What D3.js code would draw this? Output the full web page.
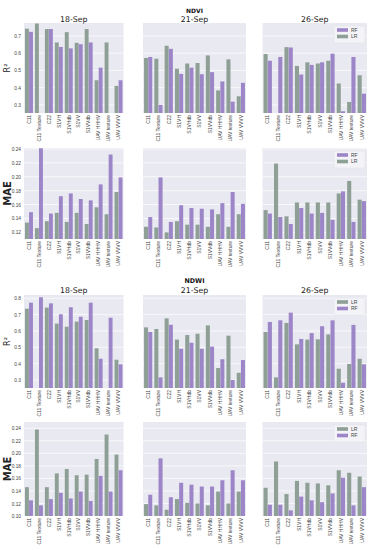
<!DOCTYPE html>
<html><head><meta charset="utf-8">
<script src="https://cdn.jsdelivr.net/npm/d3@7/dist/d3.min.js"></script>
<style>body{margin:0;background:#fff;} svg{display:block;}</style>
</head><body><svg id="c" width="372" height="550"></svg>
<script>
const categories = ["C11","C11 Texture","C22","S1VH","S1VHdb","S1VV","S1VVdb","UAV HHHV","UAV texture","UAV VVVV"];
const dates = ["18-Sep","21-Sep","26-Sep"];
const models = ["LR","RF"];

// NDVI R2
const ndviR2LR18 = [0.742,0.772,0.740,0.662,0.722,0.660,0.740,0.443,0.662,0.410];
const ndviR2RF18 = [0.724,null,0.740,0.636,0.628,0.652,0.662,0.516,null,0.443];
const ndviR2LR21 = [0.572,0.568,0.643,0.510,0.540,0.543,0.587,0.384,0.564,0.350];
const ndviR2RF21 = [0.578,0.300,0.625,0.480,0.516,0.478,0.490,0.436,0.319,0.428];
const ndviR2LR26 = [0.595,null,0.635,0.526,0.547,0.540,0.556,0.424,0.317,0.472];
const ndviR2RF26 = [0.556,0.578,0.633,0.476,0.532,0.547,0.597,0.263,0.578,0.365];
// NDVI MAE
const ndviMaeLR18 = [0.134,0.126,0.136,0.148,0.135,0.148,0.132,0.156,0.146,0.178];
const ndviMaeRF18 = [0.149,0.241,0.147,0.172,0.176,0.168,0.166,0.189,0.232,0.199];
const ndviMaeLR21 = [0.128,0.127,0.120,0.136,0.131,0.131,0.128,0.146,0.128,0.146];
const ndviMaeRF21 = [0.142,0.199,0.135,0.159,0.155,0.154,0.153,0.162,0.178,0.161];
const ndviMaeLR26 = [0.152,0.219,0.143,0.163,0.163,0.163,0.163,0.176,0.194,0.167];
const ndviMaeRF26 = [0.147,0.142,0.132,0.155,0.147,0.148,0.138,0.179,0.135,0.165];
// NDWI R2
const ndwiR2LR18 = [0.736,null,0.743,0.645,0.626,0.657,0.667,0.494,null,0.424];
const ndwiR2RF18 = [0.773,0.806,0.769,0.702,0.745,0.687,0.773,0.430,0.681,0.396];
const ndwiR2LR21 = [0.622,0.612,0.677,0.547,0.575,0.583,0.634,0.373,0.571,0.344];
const ndwiR2RF21 = [0.594,0.316,0.638,0.491,0.528,0.491,0.504,0.427,0.300,0.422];
const ndwiR2LR26 = [0.594,0.316,0.649,0.518,0.547,0.549,0.579,0.369,0.398,0.430];
const ndwiR2RF26 = [0.655,0.665,0.712,0.551,0.587,0.629,0.665,0.283,0.637,0.396];
// NDWI MAE
const ndwiMaeLR18 = [0.146,0.238,0.146,0.168,0.175,0.165,0.166,0.191,0.230,0.198];
const ndwiMaeRF18 = [0.125,0.117,0.127,0.137,0.128,0.139,0.124,0.164,0.139,0.173];
const ndwiMaeLR21 = [0.119,0.117,0.110,0.127,0.121,0.120,0.117,0.139,0.120,0.139];
const ndwiMaeRF21 = [0.134,0.192,0.130,0.153,0.150,0.147,0.147,0.157,0.173,0.157];
const ndwiMaeLR26 = [0.145,0.187,0.135,0.156,0.153,0.152,0.149,0.173,0.169,0.163];
const ndwiMaeRF26 = [0.118,0.118,0.109,0.131,0.125,0.122,0.136,0.161,0.117,0.146];

const r2Ticks1 = [0.3,0.4,0.5,0.6,0.7];
const maeTicks1 = [0.12,0.14,0.16,0.18,0.20,0.22,0.24];
const r2Ticks2 = [0.3,0.4,0.5,0.6,0.7,0.8];
const maeTicks2 = [0.10,0.12,0.14,0.16,0.18,0.20,0.22,0.24];

const colors = {LR:"#8e9f95", RF:"#9c86c8"};
const bg = "#e9e9f1";

const cols = [[24,123.5],[143,246],[262.5,367]];
const rows = [
  {top:23,bottom:113,domain:[0.253,0.775],ticks:r2Ticks1,fmt:".1f",label:"R²",titleY:21.8,
   data:[[ndviR2LR18,ndviR2RF18],[ndviR2LR21,ndviR2RF21],[ndviR2LR26,ndviR2RF26]],legend:["RF","LR"]},
  {top:148,bottom:239,domain:[0.1104,0.2414],ticks:maeTicks1,fmt:".2f",label:"MAE",titleY:null,
   data:[[ndviMaeLR18,ndviMaeRF18],[ndviMaeLR21,ndviMaeRF21],[ndviMaeLR26,ndviMaeRF26]],legend:["RF","LR"]},
  {top:295,bottom:388,domain:[0.251,0.820],ticks:r2Ticks2,fmt:".1f",label:"R²",titleY:293,
   data:[[ndwiR2LR18,ndwiR2RF18],[ndwiR2LR21,ndwiR2RF21],[ndwiR2LR26,ndwiR2RF26]],legend:["LR","RF"]},
  {top:422,bottom:516,domain:[0.10,0.25],ticks:maeTicks2,fmt:".2f",label:"MAE",titleY:null,
   data:[[ndwiMaeLR18,ndwiMaeRF18],[ndwiMaeLR21,ndwiMaeRF21],[ndwiMaeLR26,ndwiMaeRF26]],legend:["LR","RF"]}
];

const svg = d3.select("#c");
const font = "'Liberation Sans', Arial, sans-serif";
const font2 = "'DejaVu Sans', sans-serif";

rows.forEach((row, ri) => {
  const y = d3.scaleLinear().domain(row.domain).range([row.bottom,row.top]);
  cols.forEach((cx, ci) => {
    const x = d3.scaleBand().domain(categories).range(cx).paddingInner(0.2).paddingOuter(0.1);
    const xs = d3.scaleBand().domain(models).range([0,x.bandwidth()]).paddingInner(0.04);
    const g = svg.append("g");
    g.append("rect").attr("x",cx[0]).attr("y",row.top).attr("width",cx[1]-cx[0]).attr("height",row.bottom-row.top).attr("fill",bg);
    g.selectAll("line.grid").data(row.ticks).join("line")
      .attr("x1",cx[0]).attr("x2",cx[1]).attr("y1",d=>y(d)).attr("y2",d=>y(d))
      .attr("stroke","#fff").attr("stroke-width",0.7);
    models.forEach((m, mi) => {
      const vals = row.data[ci][mi];
      g.selectAll("rect.b"+m).data(categories.map((c,i)=>({c,v:vals[i]})).filter(d=>d.v!=null)).join("rect")
        .attr("x",d=>x(d.c)+xs(m)).attr("width",xs.bandwidth())
        .attr("y",d=>y(Math.max(d.v,row.domain[0]))).attr("height",d=>row.bottom-y(Math.max(d.v,row.domain[0])))
        .attr("fill",colors[m]);
    });
    const xa = g.append("g").attr("transform",`translate(0,${row.bottom})`).call(d3.axisBottom(x).tickSize(0).tickPadding(0));
    xa.select(".domain").remove();
    xa.selectAll("text").attr("transform","rotate(-90)").attr("text-anchor","end")
      .attr("x",-2).attr("y",0).attr("dy","0.35em")
      .style("font-family",font).style("font-size","5px").attr("fill","#444");
    if (ci===0) {
      const ya = g.append("g").attr("transform",`translate(${cx[0]},0)`)
        .call(d3.axisLeft(y).tickValues(row.ticks).tickFormat(d3.format(row.fmt)).tickSize(0).tickPadding(3));
      ya.select(".domain").remove();
      ya.selectAll("text").style("font-family",font).style("font-size","4.8px").attr("fill","#444");
    }
    if (ci===2) {
      const lx = cx[1]-33, ly = row.top+3;
      const lg = g.append("g");
      lg.append("rect").attr("x",lx).attr("y",ly).attr("width",31).attr("height",17).attr("rx",1.5)
        .attr("fill","#f4f4f8").attr("fill-opacity",0.9).attr("stroke","#e0e0e6").attr("stroke-width",0.5);
      row.legend.forEach((m,k)=>{
        lg.append("rect").attr("x",lx+3).attr("y",ly+4+k*6.5-1.8).attr("width",11).attr("height",3.6).attr("fill",colors[m]);
        lg.append("text").attr("x",lx+17).attr("y",ly+4+k*6.5).attr("dy","0.35em").text(m)
          .style("font-family",font).style("font-size","5px").attr("fill","#444");
      });
    }
    if (row.titleY != null) {
      g.append("text").attr("x",(cx[0]+cx[1])/2).attr("y",row.titleY).attr("text-anchor","middle")
        .style("font-family",font2).style("font-size", "7.8px").attr("fill","#222")
        .text(dates[ci]);
    }
  });
  svg.append("text").attr("transform",`translate(${row.label==="R²"?10:11},${(row.top+row.bottom)/2}) rotate(-90)`)
    .attr("text-anchor","middle")
    .style("font-family",font2).style("font-size",row.label==="R²"?"8px":"10px")
    .style("font-weight",row.label==="R²"?"normal":"bold").attr("fill","#222").text(row.label);
});
svg.append("text").attr("x",(cols[1][0]+cols[1][1])/2).attr("y",13.2).attr("text-anchor","middle")
  .style("font-family",font2).style("font-size","6px").style("font-weight","bold").attr("fill","#111").text("NDVI");
svg.append("text").attr("x",(cols[1][0]+cols[1][1])/2).attr("y",282.5).attr("text-anchor","middle")
  .style("font-family",font2).style("font-size","6.4px").style("font-weight","bold").attr("fill","#111").text("NDWI");
</script></body></html>
